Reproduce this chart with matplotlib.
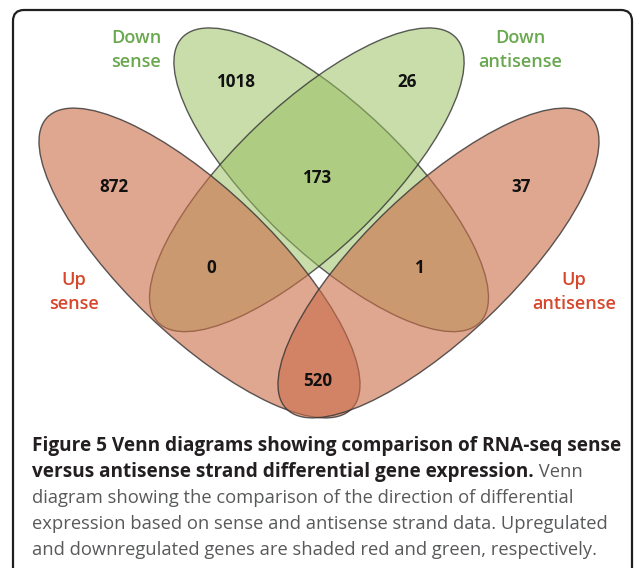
import matplotlib
matplotlib.use("Agg")
import matplotlib.pyplot as plt
from matplotlib.patches import Ellipse, FancyBboxPatch

# ---------------- data ----------------
set_names = ["Down sense", "Down antisense", "Up sense", "Up antisense"]
set_label_lines = [["Down", "sense"], ["Down", "antisense"], ["Up", "sense"], ["Up", "antisense"]]
region_names = ["Down sense only", "Down antisense only", "Up sense only", "Down sense & Down antisense",
                "Up antisense only", "Up sense & Down antisense", "Up antisense & Down sense",
                "Up sense & Up antisense"]
region_counts = [1018, 26, 872, 173, 37, 0, 1, 520]

caption_bold_1 = "Figure 5 Venn diagrams showing comparison of RNA-seq sense"
caption_bold_2 = "versus antisense strand differential gene expression."
caption_reg_2 = " Venn"
caption_reg_rest = ["diagram showing the comparison of the direction of differential",
                    "expression based on sense and antisense strand data. Upregulated",
                    "and downregulated genes are shaded red and green, respectively."]

# ---------------- layout / style ----------------
W, H, DPI = 634, 568, 100
fig = plt.figure(figsize=(W / DPI, H / DPI), dpi=DPI)
ax = fig.add_axes([0, 0, 1, 1])
ax.set_xlim(0, W)
ax.set_ylim(H, 0)
ax.axis("off")
renderer = fig.canvas.get_renderer()

def px(v):
    return v * 72.0 / DPI

FONT = ["Open Sans", "DejaVu Sans"]

# frame
frame = FancyBboxPatch((13, 10), 619, 600, boxstyle="round,pad=0,rounding_size=11",
                       fc="white", ec="#1f1f1f", lw=1.6, zorder=0)
ax.add_patch(frame)

A_UP, B_UP = 210.7, 73.3
A_DN, B_DN = 206.0, 73.3
ANG = 43.7
ellipse_geom = {
    "Down sense": (331.2, 179.8, ANG, A_DN, B_DN),
    "Down antisense": (306.8, 179.8, -ANG, A_DN, B_DN),
    "Up sense": (199.5, 263.0, ANG, A_UP, B_UP),
    "Up antisense": (438.5, 263.0, -ANG, A_UP, B_UP),
}
green_fc = (151 / 255, 191 / 255, 95 / 255, 0.53)
red_fc = (204 / 255, 110 / 255, 74 / 255, 0.61)
edge = (0.2, 0.2, 0.2, 0.8)

for name in set_names:
    cx, cy, ang, a, b = ellipse_geom[name]
    down = name.startswith("Down")
    ax.add_patch(Ellipse((cx, cy), 2 * a, 2 * b, angle=ang, fc=green_fc if down else red_fc,
                         ec=edge, lw=1.0, zorder=1 if down else 2))

# region counts
region_pos = [(236, 82), (407, 82), (114, 187), (318, 178), (521, 187), (211, 268), (420, 268), (318, 381)]
for (x, y), n in zip(region_pos, region_counts):
    ax.text(x, y, str(n), ha="center", va="center", fontsize=px(17), fontweight="bold",
            color="#111111", family=FONT, zorder=5)

# set labels
set_label_pos = [(136, 38), (520, 38), (74, 280), (574, 280)]
set_colors = ["#6aa84f", "#6aa84f", "#d6472c", "#d6472c"]
for (x, y), lines, c in zip(set_label_pos, set_label_lines, set_colors):
    for k, t in enumerate(lines):
        ax.text(x, y + 24 * k, t, ha="center", va="center", fontsize=px(18), fontweight="semibold",
                color=c, family=FONT, zorder=5)

# caption
x0 = 32
baselines = [451, 477, 503, 529, 555]
bold_c, reg_c = "#231f20", "#58595b"

def width_px(t):
    bb = t.get_window_extent(renderer=renderer)
    return bb.width

def fitted_size(text, weight, target_px, start_px=19.0):
    t = ax.text(0, 0, text, fontsize=px(start_px), fontweight=weight, family=FONT)
    w = width_px(t)
    t.remove()
    return start_px * target_px / w

bold_px = fitted_size(caption_bold_1, "bold", 588)
reg_px = fitted_size(caption_reg_rest[1], "normal", 574)

ax.text(x0, baselines[0], caption_bold_1, ha="left", va="baseline", fontsize=px(bold_px),
        fontweight="bold", color=bold_c, family=FONT)
tb = ax.text(x0, baselines[1], caption_bold_2, ha="left", va="baseline", fontsize=px(bold_px),
             fontweight="bold", color=bold_c, family=FONT)
bb = tb.get_window_extent(renderer=renderer)
x_end = ax.transData.inverted().transform((bb.x1, bb.y0))[0]
ax.text(x_end, baselines[1], caption_reg_2, ha="left", va="baseline", fontsize=px(reg_px),
        color=reg_c, family=FONT)
for t, yb in zip(caption_reg_rest, baselines[2:]):
    ax.text(x0, yb, t, ha="left", va="baseline", fontsize=px(reg_px), color=reg_c, family=FONT)

fig.savefig("out.png", dpi=DPI)
